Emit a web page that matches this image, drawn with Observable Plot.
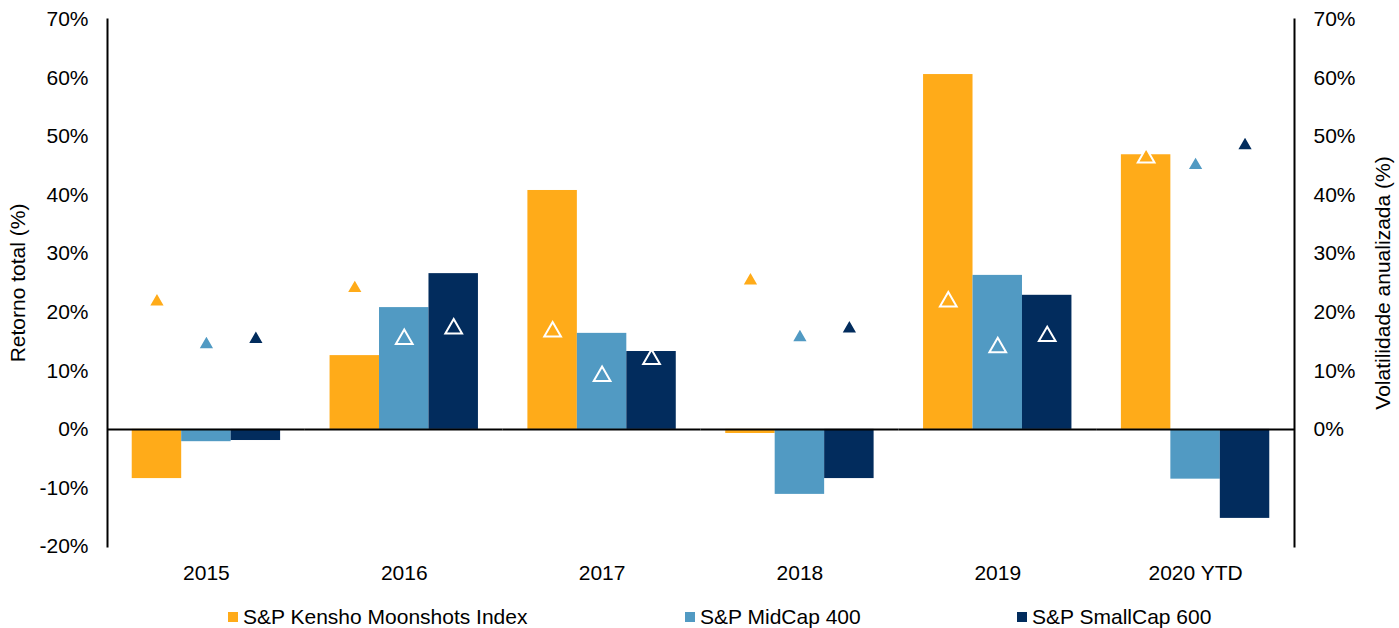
<!DOCTYPE html>
<html><head><meta charset="utf-8">
<script src="https://cdn.jsdelivr.net/npm/d3@7"></script>
<script src="https://cdn.jsdelivr.net/npm/@observablehq/plot@0.6"></script>
<style>
body{margin:0;background:#fff;font-family:"Liberation Sans",Arial,sans-serif;}
#wrap{position:relative;width:1399px;height:628px;overflow:hidden;}
.item{position:absolute;top:605px;height:24px;line-height:24px;font-size:21px;color:#000;white-space:nowrap;}
.sw{position:absolute;left:0;top:7px;width:10px;height:10px;}
.lbl{position:absolute;left:15px;top:0;}
</style></head><body>
<div id="wrap"><div id="chart"></div><div id="legend"></div></div>
<script>
const years = ["2015","2016","2017","2018","2019","2020 YTD"];
const seriesNames = ["S&P Kensho Moonshots Index","S&P MidCap 400","S&P SmallCap 600"];
const colors = ["#FFAB19","#519AC3","#022C5D"];
// total return (%)
const kenshoReturn = [-8.4, 12.6, 40.8, -0.7, 60.6, 46.9];
const midcapReturn = [-2.1, 20.8, 16.4, -11.1, 26.3, -8.5];
const smallcapReturn = [-1.9, 26.6, 13.3, -8.4, 22.9, -15.2];
// annualized volatility (%)
const kenshoVol = [21.8, 24.1, 16.7, 25.4, 21.8, 46.4];
const midcapVol = [14.5, 15.4, 9.1, 15.7, 14.0, 45.1];
const smallcapVol = [15.4, 17.2, 12.0, 17.2, 15.9, 48.5];
const leftTicks = [-20,-10,0,10,20,30,40,50,60,70];
const rightTicks = [0,10,20,30,40,50,60,70];

const returns = [kenshoReturn, midcapReturn, smallcapReturn];
const vols = [kenshoVol, midcapVol, smallcapVol];
const rows = [];
years.forEach((yr, i) => seriesNames.forEach((s, j) =>
  rows.push({year: yr, series: s, ret: returns[j][i], vol: vols[j][i]})));

const chart = Plot.plot({
  width: 1399, height: 590,
  marginLeft: 107, marginRight: 105, marginTop: 19, marginBottom: 44,
  style: {fontFamily: "'Liberation Sans', Arial, sans-serif", fontSize: "21px", color: "#000", background: "#fff"},
  fx: {domain: years, padding: 0, round: false},
  x: {domain: seriesNames, paddingInner: 0, paddingOuter: 0.5, round: false, axis: null},
  y: {domain: [-20, 70]},
  color: {domain: seriesNames, range: colors},
  marks: [
    Plot.barY(rows, {fx: "year", x: "series", y: "ret", fill: "series"}),
    Plot.ruleY([0], {stroke: "#000", strokeWidth: 2}),
    Plot.dot(rows, {fx: "year", x: "series", y: "vol", fill: "series", stroke: "#fff", strokeWidth: 2, symbol: "triangle", r: 6.2}),
    Plot.axisFx({anchor: "bottom", tickSize: 0, tickPadding: 19, label: null, fontSize: 21}),
    Plot.axisY({anchor: "left", ticks: leftTicks, tickSize: 0, tickPadding: 19, tickFormat: d => d + "%", fontSize: 21,
      label: "Retorno total (%)", labelAnchor: "center", labelArrow: "none", labelOffset: 97}),
    Plot.axisY({anchor: "right", ticks: rightTicks, tickSize: 0, tickPadding: 19, tickFormat: d => d + "%", fontSize: 21,
      label: "Volatilidade anualizada (%)", labelAnchor: "center", labelArrow: "none", labelOffset: 95}),
    Plot.frame({anchor: "left", facetAnchor: "left", stroke: "#000", strokeWidth: 2}),
    Plot.frame({anchor: "right", facetAnchor: "right", stroke: "#000", strokeWidth: 2})
  ]
});
document.getElementById("chart").appendChild(chart);

const legendLeft = [228, 685, 1017];
const legend = document.getElementById("legend");
seriesNames.forEach((s, j) => {
  const it = document.createElement("div");
  it.className = "item";
  it.style.left = legendLeft[j] + "px";
  it.innerHTML = `<span class="sw" style="background:${colors[j]}"></span><span class="lbl"></span>`;
  it.querySelector(".lbl").textContent = s;
  legend.appendChild(it);
});
</script>
</body></html>
